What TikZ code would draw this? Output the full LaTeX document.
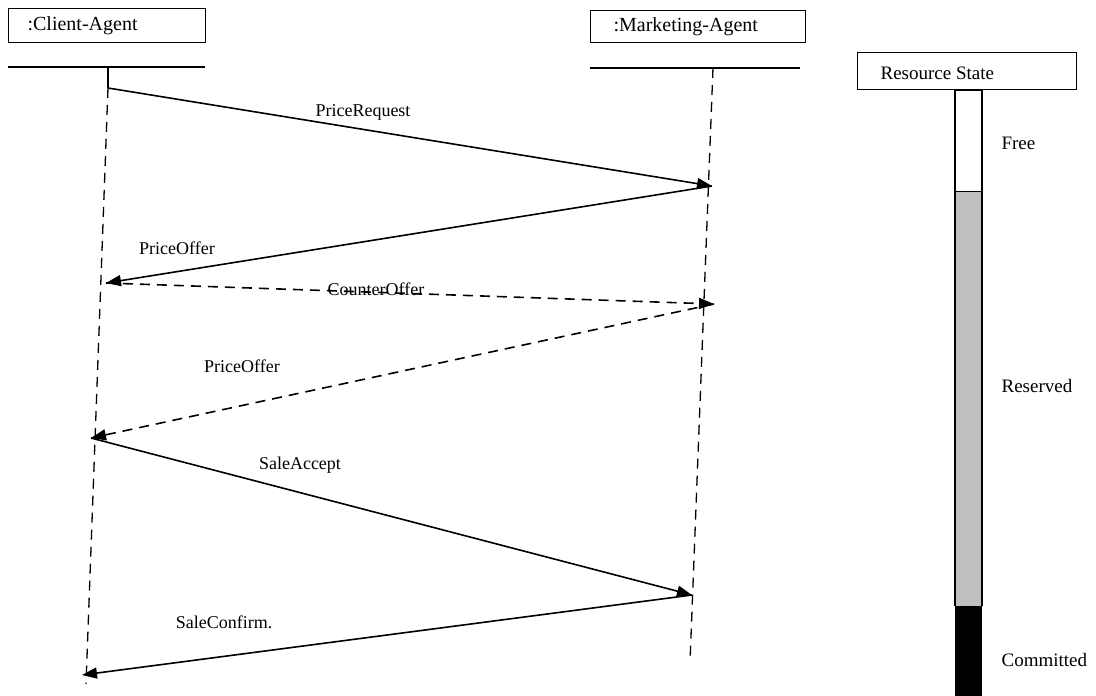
\documentclass[tikz,border=0pt]{standalone}
\usepackage{fontspec}
\setmainfont{Liberation Serif}
\usetikzlibrary{arrows.meta, positioning}

\begin{document}
\begin{tikzpicture}[x=1pt, y=-1pt, line width=1.2pt,
  every node/.style={font=\fontsize{18}{20}\selectfont, inner sep=1pt},
  hbox/.style={draw, anchor=north west, inner sep=0pt},
  htext/.style={anchor=west, font=\fontsize{20}{22}\selectfont},
  life/.style={line width=1.3pt, dash pattern=on 10pt off 7pt},
  msg/.style={line width=1.6pt, -{Triangle[length=15pt,width=11pt]}},
  msgd/.style={msg, dash pattern=on 10pt off 7pt}]
  \useasboundingbox (0,0) rectangle (1096,696);
  % ---------- HEADERS ----------
  \node[hbox, minimum width=197pt, minimum height=34pt] (client) at (8,8) {};
  \node[htext] (clientTxt) at ([xshift=18pt]client.west) {:Client-Agent};
  \node[hbox, minimum width=215pt, minimum height=32pt] (market) at (590,10) {};
  \node[htext] (marketTxt) at ([xshift=22pt]market.west) {:Marketing-Agent};
  \node[hbox, minimum width=219pt, minimum height=37pt] (res) at (857,52) {};
  \node[htext, font=\fontsize{19}{21}\selectfont] (resTxt) at ([xshift=22pt,yshift=-2pt]res.west) {Resource State};
  \draw (8,67) -- (205,67);
  \draw (590,68) -- (800,68);
  % ---------- LIFELINES ----------
  \coordinate (CT) at (108,67);
  \coordinate (C0) at (108,88);
  \coordinate (CB) at (86,684);
  \coordinate (MT) at (713,68);
  \coordinate (MB) at (690,662);
  \draw (CT) -- (C0);
  \draw[life] (C0) -- (CB);
  \draw[life] (MT) -- (MB);
  % points on the lifelines
  \coordinate (M1) at (712,186);
  \coordinate (C1) at (106,283);
  \coordinate (M2) at (714,304);
  \coordinate (C2) at (91,438);
  \coordinate (M3) at (692,595);
  \coordinate (C3) at (82,675);
  % ---------- MESSAGES ----------
  \draw[msg] (C0) -- (M1);
  \draw[msg] (M1) -- (C1);
  \draw[msgd] (C1) -- (M2);
  \draw[msgd] (M2) -- (C2);
  \draw[msg] (C2) -- (M3);
  \draw[msg] (M3) -- (C3);
  \node (reqTxt) at (363,112) {PriceRequest};
  \node (offTxt) at (177,248) {PriceOffer};
  \node (cntTxt) at (376,289) {CounterOffer};
  \node (off2Txt) at (242,366) {PriceOffer};
  \node (accTxt) at (300,465) {SaleAccept};
  \node (cnfTxt) at (224,622) {SaleConfirm.};
  % ---------- RESOURCE STATE ----------
  \draw[fill=white] (955,90) rectangle (982,192);
  \fill[black!25] (955,192) rectangle (982,606);
  \draw (955,192) -- (955,606) (982,192) -- (982,606);
  \fill[black] (955,606) rectangle (982,696);
  \node[anchor=west, font=\fontsize{19}{21}\selectfont] (freeTxt) at (1000,143) {Free};
  \node[anchor=west, font=\fontsize{19}{21}\selectfont] (resvTxt) at (1000,386) {Reserved};
  \node[anchor=west, font=\fontsize{19}{21}\selectfont] (comTxt) at (1000,660) {Committed};
\end{tikzpicture}
\end{document}
